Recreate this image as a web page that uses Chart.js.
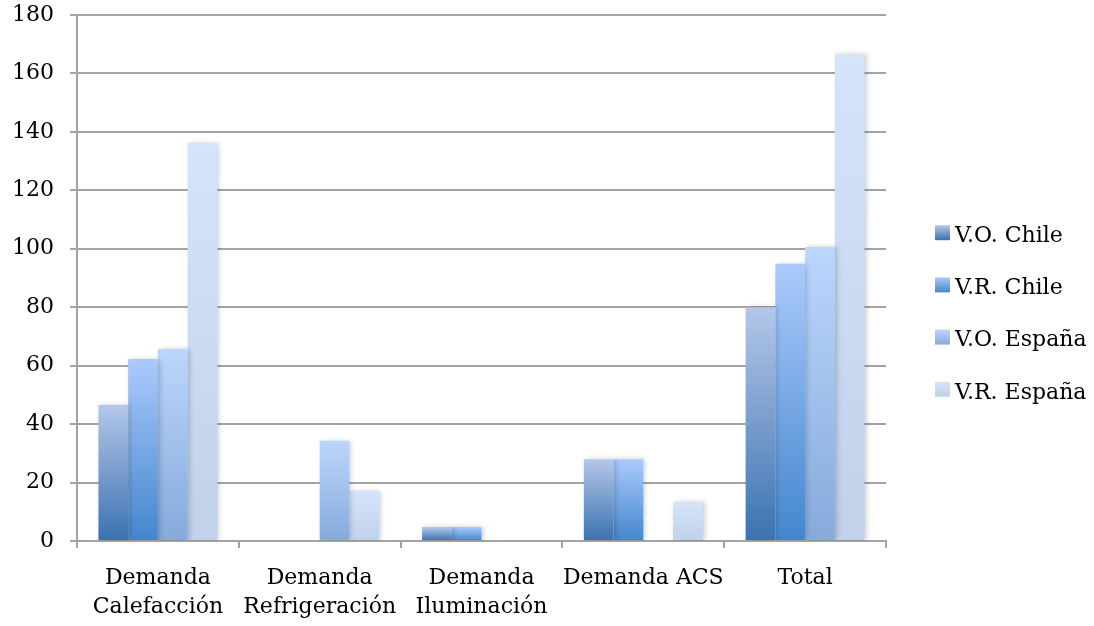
<!DOCTYPE html>
<html>
<head>
<meta charset="utf-8">
<title>Demanda energética</title>
<script src="https://cdn.jsdelivr.net/npm/chart.js@4"></script>
<style>
  html, body { margin: 0; padding: 0; background: #fff; }
  #wrap { width: 1094px; height: 626px; }
</style>
</head>
<body>
<div id="wrap"><canvas id="myChart"></canvas></div>
<script>
// categories and series
const categories = [
  ["Demanda", "Calefacción"],
  ["Demanda", "Refrigeración"],
  ["Demanda", "Iluminación"],
  "Demanda ACS",
  "Total"
];
const seriesNames = ["V.O. Chile", "V.R. Chile", "V.O. España", "V.R. España"];
const voChile = [46.5, 0, 4.8, 28, 80];
const vrChile = [62.3, 0, 4.8, 28, 94.9];
const voEspana = [65.7, 34.3, 0, 0, 100.6];
const vrEspana = [136.3, 17.2, 0, 13.3, 166.6];
const yTicks = [0, 20, 40, 60, 80, 100, 120, 140, 160, 180];

// gradient colours (top, bottom) per series
const fills = [
  ["#b4c7e9", "#3a72b0"],
  ["#abcafc", "#4386cd"],
  ["#bcd6fd", "#85aadb"],
  ["#d4e4fb", "#c0d1ea"]
];

const FONT = "'DejaVu Serif', serif";
const FONT_SIZE = 22;

function barFill(top, bottom) {
  return (ctx) => {
    const chart = ctx.chart;
    const y = chart.scales.y;
    if (!y || ctx.type !== "data" || !ctx.raw) return bottom;
    const y0 = y.getPixelForValue(0);
    const y1 = y.getPixelForValue(ctx.raw);
    if (!isFinite(y0) || !isFinite(y1) || y0 === y1) return bottom;
    const g = chart.ctx.createLinearGradient(0, y1, 0, y0);
    g.addColorStop(0, top);
    g.addColorStop(1, bottom);
    return g;
  };
}

// soft shadow behind the bars
const barShadow = {
  id: "barShadow",
  beforeDatasetsDraw(chart) {
    const c = chart.ctx;
    c.save();
    c.shadowColor = "rgba(0,0,0,0.2)";
    c.shadowBlur = 5;
    c.shadowOffsetX = 2;
    c.shadowOffsetY = 0;
  },
  afterDatasetsDraw(chart) {
    chart.ctx.restore();
  }
};

// legend on the right with gradient swatches
const sideLegend = {
  id: "sideLegend",
  afterDraw(chart) {
    const c = chart.ctx;
    const mid = chart.height / 2 + 1.5;
    c.save();
    c.font = FONT_SIZE + "px " + FONT;
    c.textBaseline = "middle";
    seriesNames.forEach((name, i) => {
      const cy = mid + (i - 1.5) * 52.2;
      const top = cy - 11;
      const g = c.createLinearGradient(0, top, 0, top + 15);
      g.addColorStop(0, fills[i][0]);
      g.addColorStop(1, fills[i][1]);
      c.fillStyle = g;
      c.fillRect(935, top, 15, 15);
      c.fillStyle = "#000";
      c.fillText(name, 955, cy);
    });
    c.restore();
  }
};

const seriesValues = [voChile, vrChile, voEspana, vrEspana];

const chartData = {
  labels: categories,
  datasets: seriesNames.map((name, i) => ({
    label: name,
    data: seriesValues[i],
    backgroundColor: barFill(fills[i][0], fills[i][1]),
    borderWidth: 0,
    categoryPercentage: 0.735,
    barPercentage: 1.0
  }))
};

const gridColor = "#a3a3a3";

const options = {
  responsive: true,
  maintainAspectRatio: false,
  animation: false,
  layout: { padding: { top: 15, right: 208, left: 0, bottom: 0 } },
  plugins: {
    legend: { display: false },
    tooltip: { enabled: false }
  },
  scales: {
    x: {
      offset: true,
      grid: {
        offset: true,
        drawOnChartArea: false,
        drawTicks: true,
        tickLength: 7,
        color: gridColor,
        lineWidth: 2
      },
      border: { color: gridColor, width: 2 },
      ticks: {
        color: "#000",
        font: { family: FONT, size: FONT_SIZE, lineHeight: 1.35 },
        padding: 15,
        maxRotation: 0,
        autoSkip: false
      },
      afterFit(scale) {
        scale.height = 85;
        scale.paddingLeft = 0;
        scale.paddingRight = 0;
      }
    },
    y: {
      min: 0,
      max: 180,
      afterBuildTicks(scale) { scale.ticks = yTicks.map(v => ({ value: v })); },
      grid: {
        color: gridColor,
        lineWidth: 2,
        tickLength: 7
      },
      border: { color: gridColor, width: 2 },
      ticks: {
        color: "#000",
        font: { family: FONT, size: FONT_SIZE },
        padding: 16
      },
      afterFit(scale) {
        scale.width = 77;
        scale.paddingTop = 0;
        scale.paddingBottom = 0;
      }
    }
  }
};

const ctx = document.getElementById("myChart").getContext("2d");
new Chart(ctx, {
  type: "bar",
  data: chartData,
  options: options,
  plugins: [barShadow, sideLegend]
});
</script>
</body>
</html>
